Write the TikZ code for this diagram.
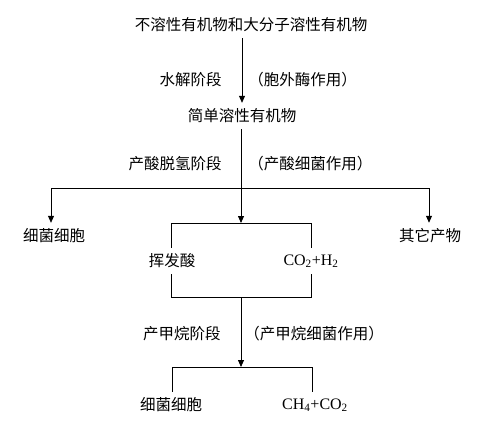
\documentclass[tikz,border=0pt]{standalone}
\usepackage{fontspec}
\setmainfont{Liberation Serif}
\newfontfamily\cjk{Noto Sans CJK SC}
\usetikzlibrary{arrows.meta}

\begin{document}
\begin{tikzpicture}[x=1pt,y=-1pt,
  font=\cjk\fontsize{15.5}{18}\selectfont,
  line width=0.8pt,
  arr/.style={-{Triangle[length=7pt,width=6pt]}},
  item/.style={inner sep=2pt, outer sep=4pt},
  chem/.style={item, font=\rmfamily\fontsize{16}{18}\selectfont},
  stage/.style={anchor=east, inner sep=0pt},
  agent/.style={anchor=west, inner sep=0pt}]
\useasboundingbox (0,0) rectangle (492,437);

% Hydrolysis
\node[item] (raw) at (251,25) {不溶性有机物和大分子溶性有机物};
\node[item] (simple) at (242,116) {简单溶性有机物};
\draw[arr] (simple |- raw.south) -- (simple.north);
\node[stage] (hydro) at (222,80) {水解阶段};
\node[agent] (hydroA) at (248,80) {（胞外酶作用）};

% Acidogenesis
\coordinate (forkL) at (51,188);
\coordinate (forkR) at (429,188);
\coordinate (boxT) at (241,223);
\node[item] (cells1) at (54,236) {细菌细胞};
\node[item] (other) at (430,236) {其它产物};
\draw (forkL) -- (forkR);
\draw[arr] (forkL) -- (forkL |- cells1.north);
\draw[arr] (forkR) -- (forkR |- other.north);
\draw[arr] (simple.south -| boxT) -- (boxT);
\node[stage] (acid) at (222,164) {产酸脱氢阶段};
\node[agent] (acidA) at (248,164) {（产酸细菌作用）};

% Intermediate products
\coordinate (boxTL) at (171,223);
\coordinate (boxTR) at (311,223);
\coordinate (boxBL) at (171,297);
\coordinate (boxBR) at (311,297);
\node[item] (vfa) at (172,261) {挥发酸};
\node[chem] (gas) at (311,261) {CO\textsubscript{2}+H\textsubscript{2}};
\draw (boxTL |- vfa.north) -- (boxTL) -- (boxTR) -- (boxTR |- gas.north);
\draw (boxBL |- vfa.south) -- (boxBL) -- (boxBR) -- (boxBR |- gas.south);

% Methanogenesis
\coordinate (boxB) at (241,297);
\coordinate (botT) at (241,367);
\coordinate (botL) at (172,367);
\coordinate (botR) at (312,367);
\draw[arr] (boxB) -- (botT);
\node[stage] (meth) at (221,334) {产甲烷阶段};
\node[agent] (methA) at (244,334) {（产甲烷细菌作用）};
\node[item] (cells2) at (171,405) {细菌细胞};
\node[chem] (prod) at (315,405) {CH\textsubscript{4}+CO\textsubscript{2}};
\draw (botL |- cells2.north) -- (botL) -- (botR) -- (botR |- prod.north);
\end{tikzpicture}
\end{document}
